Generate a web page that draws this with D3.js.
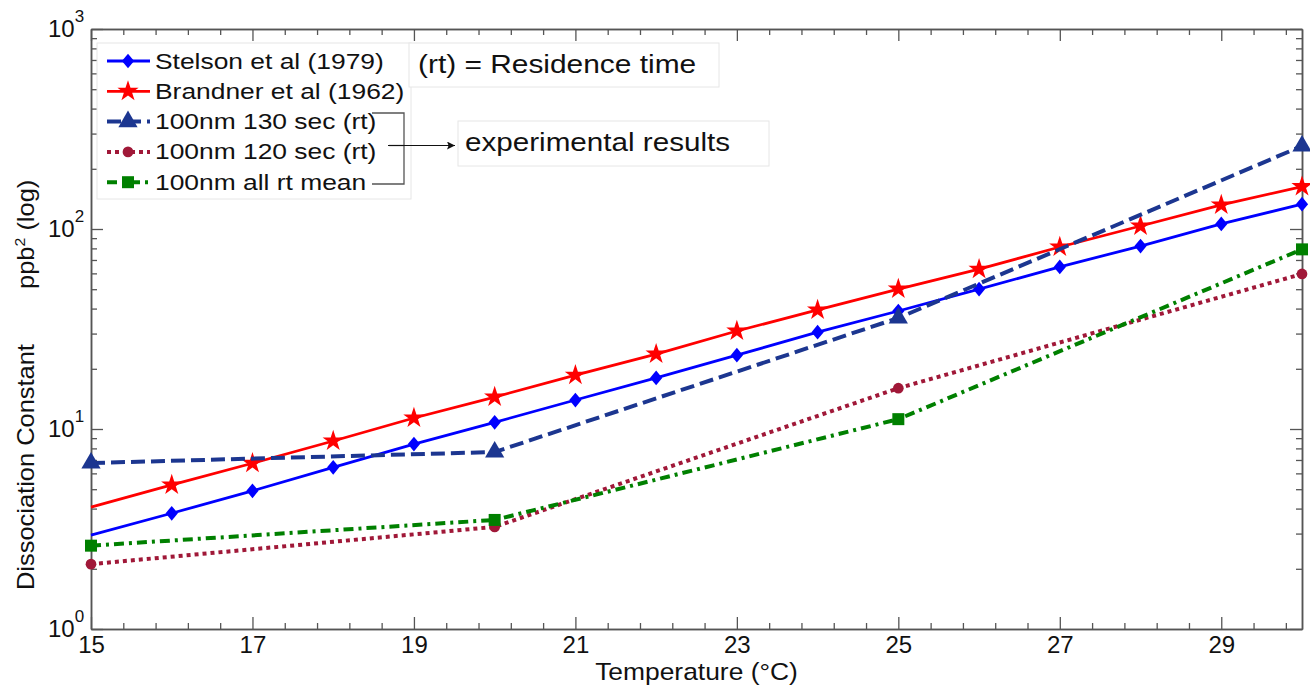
<!DOCTYPE html>
<html>
<head>
<meta charset="utf-8">
<script src="https://cdn.jsdelivr.net/npm/d3@7"></script>
<style>
  body { margin: 0; background: #fff; }
  text { font-family: "Liberation Sans", Arial, sans-serif; fill: #111; }
</style>
</head>
<body>
<div id="chart"></div>
<script>
// temperatures (°C)
const temps = [15, 16, 17, 18, 19, 20, 21, 22, 23, 24, 25, 26, 27, 28, 29, 30];
const stelson = [2.95, 3.79, 4.91, 6.43, 8.41, 10.8, 13.96, 18.0, 23.4, 30.5, 38.9, 50.1, 64.6, 82.2, 106, 133];
const brandner = [4.07, 5.25, 6.74, 8.71, 11.35, 14.45, 18.6, 23.7, 30.9, 39.4, 50.1, 63, 81.3, 103.5, 132, 163];

const expTemps = [15, 20, 25, 30];
const rt130 = [6.76, 7.67, 35.9, 260];
const rt120 = [2.11, 3.24, 16.0, 59.6];
const rtMean = [2.61, 3.51, 11.2, 79.1];

const xMajor = [15, 17, 19, 21, 23, 25, 27, 29];
const yMajor = [1, 10, 100, 1000];

const width = 1310, height = 686;
const margin = { top: 29, right: 8, bottom: 57, left: 91 };

const svg = d3.select('#chart').append('svg')
  .attr('width', width)
  .attr('height', height);

const x = d3.scaleLinear().domain([15, 30]).range([margin.left, width - margin.right]);
const y = d3.scaleLog().domain([1, 1000]).range([height - margin.bottom, margin.top]);

// a diamond a bit wider than d3's own
const diamond = {
  draw(ctx, size) {
    const h = Math.sqrt(size / 1.66), w = h * 0.83;
    ctx.moveTo(0, -h); ctx.lineTo(w, 0); ctx.lineTo(0, h); ctx.lineTo(-w, 0); ctx.closePath();
  }
};

const series = [
  { name: 'Stelson et al (1979)', xs: temps, ys: stelson, color: '#0000ff', dash: null, sw: 2.8, sym: diamond, size: 90, skipFirst: true },
  { name: 'Brandner et al (1962)', xs: temps, ys: brandner, color: '#ff0000', dash: null, sw: 2.8, sym: d3.symbolStar, size: 140, skipFirst: true },
  { name: '100nm 130 sec (rt)', xs: expTemps, ys: rt130, color: '#1c3690', dash: '14,6', sw: 4, sym: d3.symbolTriangle, size: 160 },
  { name: '100nm 120 sec (rt)', xs: expTemps, ys: rt120, color: '#a01838', dash: '4,4', sw: 4, sym: d3.symbolCircle, size: 90 },
  { name: '100nm all rt mean', xs: expTemps, ys: rtMean, color: '#008000', dash: '10,5,3,5', sw: 4, sym: d3.symbolSquare, size: 144 }
];

// axes: ticks pointing inward on all four sides
const minorX = d3.range(15, 30.01, 0.4).filter(v => !xMajor.some(m => Math.abs(m - v) < 1e-6));
const minorY = [];
[1, 10, 100].forEach(d => { for (let k = 2; k <= 9; k++) minorY.push(d * k); });

const axisColor = '#555';
function styleAxis(g) {
  g.selectAll('.domain').attr('stroke', axisColor).attr('stroke-width', 1.5);
  g.selectAll('.tick line').attr('stroke', axisColor).attr('stroke-width', 1.3);
}

const bottomY = height - margin.bottom, topY = margin.top;
const leftX = margin.left, rightX = width - margin.right;

svg.append('g').attr('transform', `translate(0,${bottomY})`)
  .call(d3.axisBottom(x).tickValues(xMajor).tickSize(-12).tickPadding(7).tickSizeOuter(0))
  .call(styleAxis)
  .call(g => g.selectAll('text').attr('font-size', 24).attr('fill', '#111')
    .attr('font-family', '"Liberation Sans", Arial, sans-serif'));
svg.append('g').attr('transform', `translate(0,${bottomY})`)
  .call(d3.axisBottom(x).tickValues(minorX).tickSize(-6).tickFormat('').tickSizeOuter(0))
  .call(styleAxis);
svg.append('g').attr('transform', `translate(0,${topY})`)
  .call(d3.axisTop(x).tickValues(xMajor).tickSize(-12).tickFormat('').tickSizeOuter(0))
  .call(styleAxis);
svg.append('g').attr('transform', `translate(0,${topY})`)
  .call(d3.axisTop(x).tickValues(minorX).tickSize(-6).tickFormat('').tickSizeOuter(0))
  .call(styleAxis);

svg.append('g').attr('transform', `translate(${leftX},0)`)
  .call(d3.axisLeft(y).tickValues(yMajor).tickSize(-12).tickFormat('').tickSizeOuter(0))
  .call(styleAxis);
svg.append('g').attr('transform', `translate(${leftX},0)`)
  .call(d3.axisLeft(y).tickValues(minorY).tickSize(-6).tickFormat('').tickSizeOuter(0))
  .call(styleAxis);
svg.append('g').attr('transform', `translate(${rightX},0)`)
  .call(d3.axisRight(y).tickValues(yMajor).tickSize(-12).tickFormat('').tickSizeOuter(0))
  .call(styleAxis);
svg.append('g').attr('transform', `translate(${rightX},0)`)
  .call(d3.axisRight(y).tickValues(minorY).tickSize(-6).tickFormat('').tickSizeOuter(0))
  .call(styleAxis);

// y tick labels as 10^n
const yLab = svg.append('g');
yMajor.forEach(v => {
  const t = yLab.append('text')
    .attr('x', 48)
    .attr('y', y(v) + 8)
    .attr('font-size', 24);
  t.append('tspan').text('10');
  t.append('tspan').attr('font-size', 17).attr('dy', -15).text(Math.round(Math.log10(v)));
});

// axis titles
svg.append('text')
  .attr('transform', `translate(${(leftX + rightX) / 2},680) scale(1.1,1)`)
  .attr('text-anchor', 'middle')
  .attr('font-size', 24)
  .text('Temperature (°C)');

const yt = svg.append('text')
  .attr('transform', 'translate(34,590) rotate(-90) scale(1.06,1)')
  .attr('font-size', 24);
yt.append('tspan').text('Dissociation Constant');
yt.append('tspan').attr('dx', 52).text('ppb');
yt.append('tspan').attr('font-size', 15).attr('dy', -9).text('2');
yt.append('tspan').attr('dy', 9).text(' (log)');

// lines and markers
const line = d3.line().x(d => x(d[0])).y(d => y(d[1]));
series.forEach(s => {
  const pts = s.xs.map((t, i) => [t, s.ys[i]]);
  svg.append('path')
    .datum(pts)
    .attr('fill', 'none')
    .attr('stroke', s.color)
    .attr('stroke-width', s.sw)
    .attr('stroke-dasharray', s.dash)
    .attr('d', line);
  svg.append('g').selectAll('path')
    .data(s.skipFirst ? pts.slice(1) : pts)
    .join('path')
    .attr('transform', d => `translate(${x(d[0])},${y(d[1])})`)
    .attr('d', d3.symbol(s.sym, s.size))
    .attr('fill', s.color);
});

// legend
const lg = svg.append('g');
lg.append('rect')
  .attr('x', 97).attr('y', 43).attr('width', 314).attr('height', 156)
  .attr('fill', '#fff').attr('stroke', '#e6e6e6');
series.forEach((s, i) => {
  const cy = 61 + i * 30.3;
  lg.append('line')
    .attr('x1', 107).attr('x2', 150).attr('y1', cy).attr('y2', cy)
    .attr('stroke', s.color).attr('stroke-width', s.sw)
    .attr('stroke-dasharray', s.dash);
  lg.append('path')
    .attr('transform', `translate(128,${cy})`)
    .attr('d', d3.symbol(s.sym, s.size))
    .attr('fill', s.color);
  lg.append('text')
    .attr('transform', `translate(155,${cy + 7.5}) scale(1.2,1)`)
    .attr('font-size', 22)
    .text(s.name);
});

// bracket around experimental entries
const br = svg.append('g').attr('stroke', '#555').attr('stroke-width', 1.3).attr('fill', 'none');
br.append('path').attr('d', 'M372,113 H404 V184 H372');
br.append('line').attr('x1', 389).attr('x2', 404).attr('y1', 145.5).attr('y2', 145.5);

// arrow
svg.append('defs').append('marker')
  .attr('id', 'arr').attr('viewBox', '0 0 10 10')
  .attr('refX', 10).attr('refY', 5)
  .attr('markerWidth', 12).attr('markerHeight', 8)
  .attr('markerUnits', 'userSpaceOnUse')
  .attr('orient', 'auto')
  .append('path').attr('d', 'M0,0 L10,5 L0,10 L2,5 Z').attr('fill', '#111');
svg.append('line')
  .attr('x1', 388).attr('x2', 455).attr('y1', 145.5).attr('y2', 145.5)
  .attr('stroke', '#111').attr('stroke-width', 1.2)
  .attr('marker-end', 'url(#arr)');

// annotation boxes
svg.append('rect').attr('x', 409).attr('y', 43).attr('width', 310).attr('height', 44)
  .attr('fill', '#fff').attr('stroke', '#e6e6e6');
svg.append('text').attr('transform', 'translate(418,73) scale(1.15,1)').attr('font-size', 26)
  .text('(rt) = Residence time');

svg.append('rect').attr('x', 458).attr('y', 121).attr('width', 311).attr('height', 45)
  .attr('fill', '#fff').attr('stroke', '#e6e6e6');
svg.append('text').attr('transform', 'translate(465,151) scale(1.14,1)').attr('font-size', 26)
  .text('experimental results');
</script>
</body>
</html>
